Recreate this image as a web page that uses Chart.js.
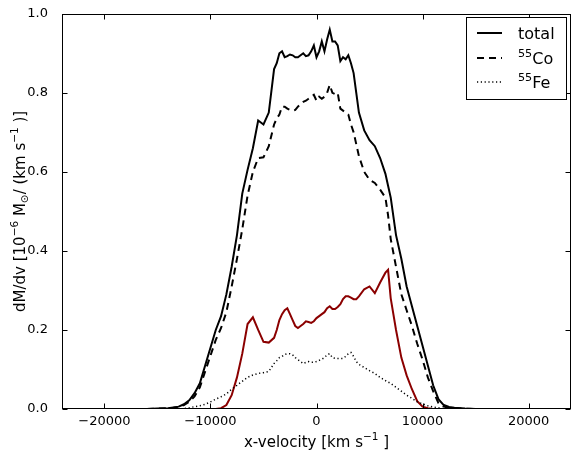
<!DOCTYPE html>
<html><head><meta charset="utf-8">
<script src="https://cdn.jsdelivr.net/npm/chart.js@4/dist/chart.umd.min.js"></script>
<style>html,body{margin:0;padding:0;background:#fff}#wrap{width:573px;height:458px}</style>
</head><body><div id="wrap"><canvas id="c" width="573" height="458"></canvas></div>
<script>
const velocity = [-16000,-15000,-14000,-13500,-13000,-12500,-12000,-11500,-11000,-10500,-10000,-9500,-9000,-8500,-8000,-7500,-7000,-6500,-6000,-5500,-5000,-4500,
 -4000,-3750,-3500,-3250,-3000,-2750,-2500,-2250,-2000,-1750,-1500,-1250,-1000,-750,-500,-250,0,250,500,750,1000,1250,1500,1750,2000,2250,2500,2750,3000,3250,3500,3750,4000,
 4500,5000,5500,6000,6500,6750,7000,7500,8000,8500,9000,9500,10000,10500,11000,11500,12000,12500,13000,14000,15000,16000];
const total = [0,0.001,0.002,0.004,0.006,0.012,0.022,0.04,0.065,0.11,0.155,0.20,0.235,0.29,0.36,0.44,0.545,0.605,0.66,0.73,0.72,0.75,
 0.86,0.875,0.90,0.905,0.89,0.893,0.897,0.895,0.89,0.89,0.895,0.90,0.893,0.895,0.905,0.92,0.89,0.905,0.93,0.905,0.935,0.96,0.93,0.93,0.92,0.88,0.89,0.885,0.895,0.875,0.85,0.80,0.75,
 0.705,0.68,0.665,0.635,0.595,0.565,0.535,0.44,0.38,0.31,0.26,0.21,0.16,0.11,0.06,0.025,0.01,0.005,0.003,0.001,0,0];
const co55 = [0,0.001,0.002,0.003,0.005,0.01,0.018,0.032,0.055,0.095,0.135,0.175,0.205,0.245,0.31,0.38,0.455,0.54,0.60,0.635,0.637,0.665,
 0.72,0.735,0.745,0.765,0.765,0.76,0.757,0.755,0.757,0.765,0.772,0.777,0.78,0.785,0.79,0.795,0.78,0.79,0.785,0.79,0.80,0.82,0.80,0.797,0.80,0.76,0.755,0.75,0.745,0.72,0.70,0.67,0.64,
 0.60,0.58,0.572,0.555,0.535,0.49,0.43,0.36,0.29,0.25,0.21,0.165,0.125,0.08,0.045,0.015,0.006,0.003,0.002,0.001,0,0];
const fe55 = [0,0,0,0,0,0.001,0.003,0.006,0.008,0.012,0.018,0.025,0.031,0.038,0.05,0.06,0.07,0.08,0.086,0.09,0.092,0.095,
 0.115,0.122,0.13,0.133,0.138,0.14,0.14,0.137,0.13,0.125,0.12,0.115,0.118,0.12,0.118,0.118,0.12,0.123,0.126,0.13,0.137,0.14,0.13,0.128,0.128,0.128,0.128,0.133,0.14,0.143,0.133,0.12,0.113,
 0.105,0.097,0.09,0.08,0.072,0.068,0.065,0.055,0.045,0.035,0.027,0.018,0.013,0.008,0.005,0.003,0.001,0,0,0,0,0];
const redCurve = [0,0,0,0,0,0,0,0,0,0,0,0,0.002,0.01,0.035,0.08,0.14,0.215,0.232,0.20,0.17,0.168,
 0.18,0.20,0.225,0.24,0.25,0.255,0.24,0.225,0.21,0.205,0.21,0.215,0.222,0.22,0.218,0.222,0.23,0.235,0.24,0.245,0.255,0.26,0.253,0.253,0.258,0.265,0.278,0.285,0.285,0.282,0.278,0.278,0.285,
 0.303,0.31,0.293,0.32,0.345,0.352,0.28,0.20,0.13,0.085,0.05,0.02,0.006,0.002,0,0,0,0,0,0,0,0];
const xTicks = [-20000,-10000,0,10000,20000];
const yTicks = [0.0,0.2,0.4,0.6,0.8,1.0];
const legendItems = [
  {label:[{t:'total'}], dash:[], width:2},
  {label:[{t:'55',sup:true},{t:'Co'}], dash:[7,5], width:2},
  {label:[{t:'55',sup:true},{t:'Fe'}], dash:[1.2,2.6], width:1.5}
];
const FONT = '"DejaVu Sans", sans-serif';

function pts(arr){ return velocity.map((v,i)=>({x:v,y:arr[i]})); }
function fmtX(v){ return v<0 ? '\u2212'+Math.abs(v) : String(v); }

function drawRich(ctx, segs, x, y, size, align){
  let w=0;
  segs.forEach(s=>{ const fs=(s.sup||s.sub)?size*0.7:size; ctx.font=fs+'px '+FONT; s._w=ctx.measureText(s.t).width; s._fs=fs; w+=s._w; });
  let cx = align==='center' ? x-w/2 : x;
  ctx.textAlign='left'; ctx.textBaseline='alphabetic';
  segs.forEach(s=>{ ctx.font=s._fs+'px '+FONT; const dy = s.sup ? -size*0.45 : (s.sub ? size*0.2 : 0); ctx.fillText(s.t, cx, y+dy); cx+=s._w; });
}

const decor = {
  id:'decor',
  afterDraw(chart){
    const ctx=chart.ctx, a=chart.chartArea, xs=chart.scales.x, ys=chart.scales.y;
    ctx.save();
    ctx.strokeStyle='#000'; ctx.lineWidth=1;
    const L=Math.round(a.left)+0.5, R=Math.round(a.right)-0.5, T=Math.round(a.top)+0.5, B=Math.round(a.bottom)-0.5;
    ctx.strokeRect(L,T,R-L,B-T);
    ctx.beginPath();
    xTicks.forEach(v=>{ const px=Math.round(xs.getPixelForValue(v))+0.5; ctx.moveTo(px,B); ctx.lineTo(px,B-5); ctx.moveTo(px,T); ctx.lineTo(px,T+5); });
    yTicks.forEach(v=>{ const py=Math.round(ys.getPixelForValue(v))+0.5; ctx.moveTo(L,py); ctx.lineTo(L+5,py); ctx.moveTo(R,py); ctx.lineTo(R-5,py); });
    ctx.stroke();
    ctx.fillStyle='#000';
    // x tick labels
    ctx.font='13px '+FONT; ctx.textAlign='center'; ctx.textBaseline='alphabetic';
    xTicks.forEach(v=>{ ctx.fillText(fmtX(v), xs.getPixelForValue(v), a.bottom+16); });
    // x title
    drawRich(ctx,[{t:'x-velocity [km s'},{t:'\u22121',sup:true},{t:' ]'}],(a.left+a.right)/2,447,15,'center');
    // y title
    ctx.save(); ctx.translate(25,(a.top+a.bottom)/2); ctx.rotate(-Math.PI/2);
    drawRich(ctx,[{t:'dM/dv [10'},{t:'\u22126',sup:true},{t:' M'},{t:'\u2299',sub:true},{t:'/ (km s'},{t:'\u22121',sup:true},{t:' )]'}],0,0,15,'center');
    ctx.restore();
    // legend
    const bx=466.5, by=17.5, bw=100, bh=82;
    ctx.fillStyle='#fff'; ctx.fillRect(bx,by,bw,bh); ctx.strokeRect(bx,by,bw,bh);
    const rows=[33,58,82];
    legendItems.forEach((it,i)=>{
      ctx.save(); ctx.strokeStyle='#000'; ctx.lineWidth=it.width; ctx.setLineDash(it.dash);
      ctx.beginPath(); ctx.moveTo(477,rows[i]); ctx.lineTo(502,rows[i]); ctx.stroke(); ctx.restore();
      ctx.fillStyle='#000';
      drawRich(ctx,it.label.map(s=>Object.assign({},s)),518,rows[i]+6,16,'left');
    });
    ctx.restore();
  }
};

Chart.defaults.font.family = FONT;
Chart.defaults.color = '#000';
new Chart(document.getElementById('c'),{
  type:'line',
  data:{datasets:[
    {label:'total',data:pts(total),borderColor:'#000',borderWidth:2,pointRadius:0,tension:0,fill:false},
    {label:'55Co',data:pts(co55),borderColor:'#000',borderWidth:2,borderDash:[7,5],pointRadius:0,tension:0,fill:false},
    {label:'55Fe',data:pts(fe55),borderColor:'#000',borderWidth:1.5,borderDash:[1.2,2.6],pointRadius:0,tension:0,fill:false},
    {label:'other',data:pts(redCurve),borderColor:'#8b0000',borderWidth:2,pointRadius:0,tension:0,fill:false}
  ]},
  options:{
    responsive:false, animation:false, devicePixelRatio:1,
    layout:{padding:{left:0,right:2,top:10,bottom:0}},
    plugins:{legend:{display:false},tooltip:{enabled:false}},
    scales:{
      x:{type:'linear',min:-24000,max:24000,grid:{display:false},border:{display:false},
         afterBuildTicks(s){ s.ticks = xTicks.map(v=>({value:v})); },
         afterFit(s){ s.height = 49; },
         ticks:{display:false}},
      y:{type:'linear',min:0,max:1,grid:{display:false},border:{display:false},
         afterBuildTicks(s){ s.ticks = yTicks.map(v=>({value:v})); },
         afterFit(s){ s.width = 62; },
         ticks:{padding:6,autoSkip:false,font:{size:13},callback:v=> Number(v).toFixed(1)}}
    }
  },
  plugins:[decor]
});
</script></body></html>
